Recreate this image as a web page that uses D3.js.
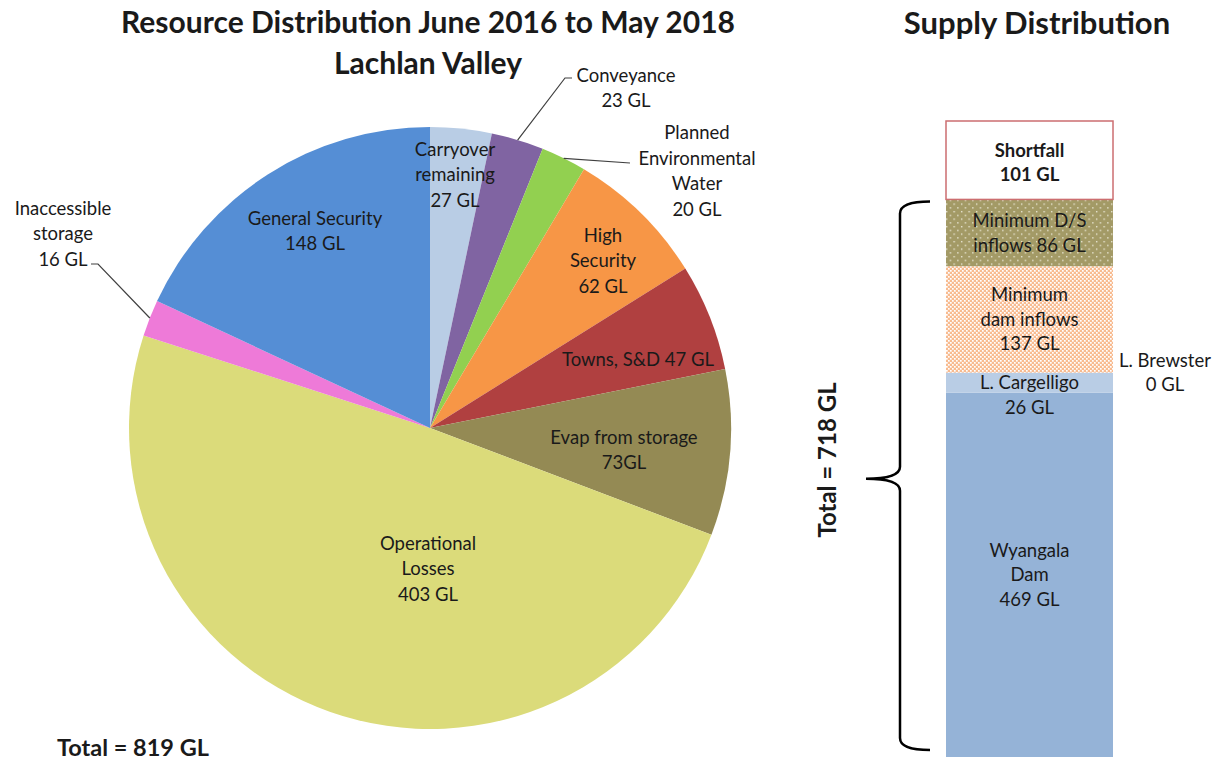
<!DOCTYPE html>
<html>
<head>
<meta charset="utf-8">
<script src="https://cdn.jsdelivr.net/npm/d3@7"></script>
<style>
    body { margin: 0; background: #fff; }
    svg text { font-family: Lato, "Open Sans", sans-serif; fill: #1a1a1a; }
    .title { font-weight: bold; font-size: 30px; }
    .lbl { font-size: 18.5px; }
    .bold { font-weight: bold; }
</style>
</head>
<body>
<svg id="chart" width="1220" height="763"></svg>
<script>
// Resource distribution (pie), GL
const pieLabels = [
    ['Carryover', 'remaining', '27 GL'],
    ['Conveyance', '23 GL'],
    ['Planned', 'Environmental', 'Water', '20 GL'],
    ['High', 'Security', '62 GL'],
    ['Towns, S&D 47 GL'],
    ['Evap from storage', '73GL'],
    ['Operational', 'Losses', '403 GL'],
    ['Inaccessible', 'storage', '16 GL'],
    ['General Security', '148 GL']
];
const pieValues = [27, 23, 20, 62, 47, 73, 403, 16, 148];
const pieColors = ['#b9cde5', '#8064a2', '#92d050', '#f79646', '#b04040', '#948a54', '#dbdb7a', '#ee7ad8', '#558ed5'];

// Supply distribution (stacked bar, bottom to top), GL
const supplyLabels = [
    ['Wyangala', 'Dam', '469 GL'],
    ['L. Cargelligo', '26 GL'],
    ['L. Brewster', '0 GL'],
    ['Minimum', 'dam inflows', '137 GL'],
    ['Minimum D/S', 'inflows 86 GL'],
    ['Shortfall', '101 GL']
];
const supplyValues = [469, 26, 0, 137, 86, 101];
const supplyTotal = 718;
const resourceTotal = 819;

// label placement for the pie: offset of the text block centre from the pie centre,
// and for outside labels the leader elbow/end
const pieLabelLayout = [
    {dx: 25, dy: -253},
    {dx: 196, dy: -340, leader: [[135, -350], [142, -350]]},
    {dx: 267, dy: -257, leader: [[200, -265]]},
    {dx: 173, dy: -167},
    {dx: 208, dy: -68},
    {dx: 194, dy: 22},
    {dx: -2, dy: 141},
    {dx: -367, dy: -194, leader: [[-332, -164], [-339, -164]]},
    {dx: -115, dy: -197}
];

const svg = d3.select('#chart');
const cx = 430, cy = 428, radius = 301;
const lineH = 25.5;

// ---- titles
svg.append('text').attr('class', 'title')
    .attr('x', 428).attr('y', 33).attr('text-anchor', 'middle')
    .text('Resource Distribution June 2016 to May 2018');
svg.append('text').attr('class', 'title')
    .attr('x', 428).attr('y', 74).attr('text-anchor', 'middle')
    .text('Lachlan Valley');
svg.append('text').attr('class', 'title')
    .style('font-size', '31px')
    .attr('x', 1037).attr('y', 34).attr('text-anchor', 'middle')
    .text('Supply Distribution');

// ---- pie
let pie = d3.pie().sort(null).value(d => d);
let arcs = pie(pieValues);
let arc = d3.arc().innerRadius(0).outerRadius(radius);
let edgeArc = d3.arc().innerRadius(radius).outerRadius(radius);

let pieG = svg.append('g').attr('transform', 'translate(' + cx + ',' + cy + ')');

pieG.selectAll('path.slice')
    .data(arcs)
    .enter().append('path')
    .attr('class', 'slice')
    .attr('d', arc)
    .style('fill', (d, i) => pieColors[i])
    .style('stroke', 'none');

// leader lines
arcs.forEach((d, i) => {
    let lay = pieLabelLayout[i];
    if (!lay.leader) return;
    let pts = [edgeArc.centroid(d)].concat(lay.leader);
    pieG.append('path')
        .attr('d', d3.line()(pts))
        .style('fill', 'none')
        .style('stroke', '#404040')
        .style('stroke-width', 1.2);
});

// labels
arcs.forEach((d, i) => {
    let lay = pieLabelLayout[i];
    let lines = pieLabels[i];
    let t = pieG.append('text').attr('class', 'lbl').attr('text-anchor', 'middle');
    let y0 = lay.dy - (lines.length - 1) * lineH / 2;
    lines.forEach((ln, j) => {
        t.append('tspan')
            .attr('x', lay.dx)
            .attr('y', y0 + j * lineH)
            .attr('dy', '0.35em')
            .text(ln);
    });
});

svg.append('text').attr('class', 'bold')
    .style('font-size', '23.5px')
    .attr('x', 57).attr('y', 756)
    .text('Total = ' + resourceTotal + ' GL');

// ---- stacked bar
let defs = svg.append('defs');
let p1 = defs.append('pattern').attr('id', 'dotsOlive')
    .attr('patternUnits', 'userSpaceOnUse').attr('width', 7.5).attr('height', 7.5);
p1.append('rect').attr('width', 7.5).attr('height', 7.5).style('fill', '#a39a66');
p1.append('rect').attr('x', 1).attr('y', 1).attr('width', 1.3).attr('height', 1.3).style('fill', '#f4f1e4');
p1.append('rect').attr('x', 4.75).attr('y', 4.75).attr('width', 1.3).attr('height', 1.3).style('fill', '#f4f1e4');

let p2 = defs.append('pattern').attr('id', 'dotsOrange')
    .attr('patternUnits', 'userSpaceOnUse').attr('width', 4).attr('height', 4);
p2.append('rect').attr('width', 4).attr('height', 4).style('fill', '#f8bb90');
p2.append('rect').attr('x', 0).attr('y', 0).attr('width', 1.7).attr('height', 1.7).style('fill', '#fff');
p2.append('rect').attr('x', 2).attr('y', 2).attr('width', 1.7).attr('height', 1.7).style('fill', '#fff');

const segFill = ['#95b3d7', '#b9cde5', '#b9cde5', 'url(#dotsOrange)', 'url(#dotsOlive)', '#ffffff'];
// vertical shift (in lines) of each segment label block
const segShift = [0, 0.5, 0, 0, 0, 0.1];

let xScale = d3.scaleBand().domain(['Supply']).range([946, 1113]).padding(0);
let yScale = d3.scaleLinear().domain([0, d3.sum(supplyValues)]).range([757, 121]);

let stacked = [];
let acc = 0;
supplyValues.forEach((v, i) => {
    stacked.push({y0: acc, y1: acc + v, i: i});
    acc += v;
});

svg.selectAll('rect.seg')
    .data(stacked)
    .enter().append('rect')
    .attr('class', 'seg')
    .attr('x', xScale('Supply'))
    .attr('width', xScale.bandwidth())
    .attr('y', d => yScale(d.y1))
    .attr('height', d => yScale(d.y0) - yScale(d.y1))
    .style('fill', d => segFill[d.i])
    .style('stroke', d => d.i === 5 ? '#cc6e70' : 'none')
    .style('stroke-width', 1.5);

const barLineH = 24.5;
stacked.forEach(d => {
    let lines = supplyLabels[d.i];
    let mid = (yScale(d.y0) + yScale(d.y1)) / 2;
    let x = xScale('Supply') + xScale.bandwidth() / 2;
    if (d.y1 === d.y0) x = xScale('Supply') + xScale.bandwidth() + 52;
    let t = svg.append('text').attr('class', 'lbl' + (d.i === 5 ? ' bold' : ''))
        .attr('text-anchor', 'middle');
    let y0 = mid - (lines.length - 1) * barLineH / 2 + segShift[d.i] * barLineH;
    lines.forEach((ln, j) => {
        t.append('tspan')
            .attr('x', x)
            .attr('y', y0 + j * barLineH)
            .attr('dy', '0.35em')
            .text(ln);
    });
});

// brace over the supply part
let bTop = yScale(supplyTotal) + 2, bBot = yScale(0) - 7;
let bMid = (bTop + bBot) / 2 + 3;
let bx = 900, bTip = 866, bEnd = 930;
let brace = d3.path();
brace.moveTo(bEnd, bTop);
brace.quadraticCurveTo(bx, bTop, bx, bTop + 12);
brace.lineTo(bx, bMid - 12);
brace.quadraticCurveTo(bx, bMid, bTip, bMid);
brace.quadraticCurveTo(bx, bMid, bx, bMid + 12);
brace.lineTo(bx, bBot - 12);
brace.quadraticCurveTo(bx, bBot, bEnd, bBot);
svg.append('path')
    .attr('d', brace.toString())
    .style('fill', 'none')
    .style('stroke', '#000')
    .style('stroke-width', 2.5);

svg.append('text').attr('class', 'bold')
    .style('font-size', '24px')
    .attr('text-anchor', 'middle')
    .attr('transform', 'translate(836,460) rotate(-90)')
    .text('Total = ' + supplyTotal + ' GL');
</script>
</body>
</html>
